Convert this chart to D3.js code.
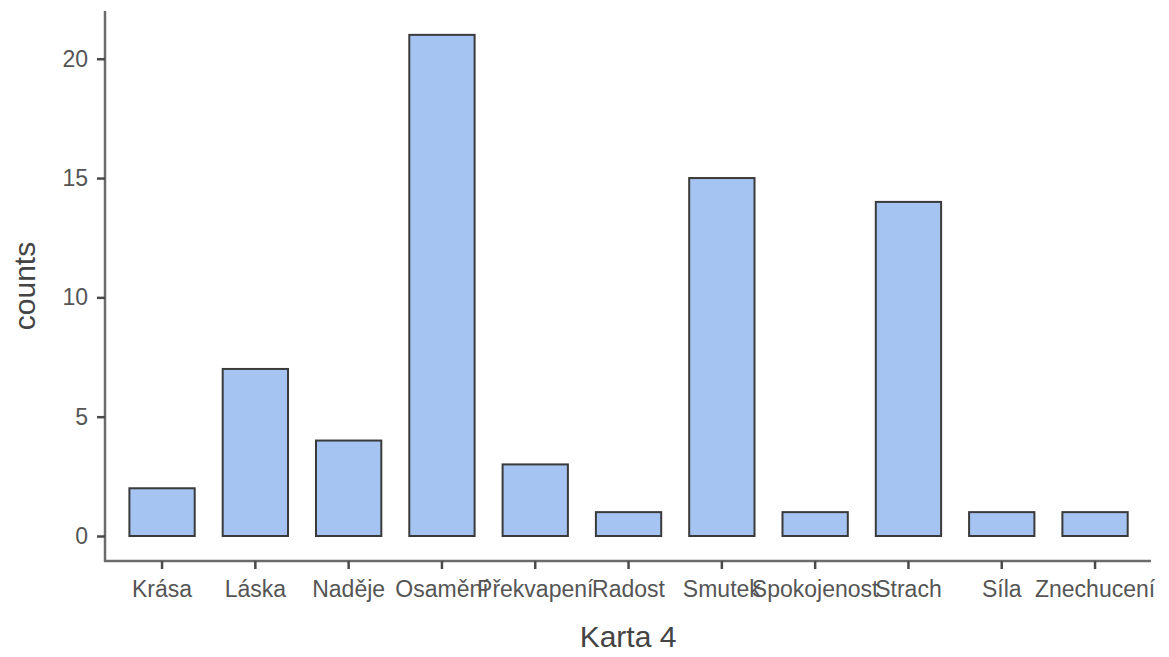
<!DOCTYPE html>
<html>
<head>
<meta charset="utf-8">
<script src="https://cdn.jsdelivr.net/npm/d3@7/dist/d3.min.js"></script>
<style>
  html, body { margin: 0; padding: 0; background: #fff; }
  svg { display: block; }
</style>
</head>
<body>
<svg id="chart" width="1169" height="657"></svg>
<script>
const categories = ["Krása", "Láska", "Naděje", "Osamění", "Překvapení", "Radost", "Smutek", "Spokojenost", "Strach", "Síla", "Znechucení"];
const counts = [2, 7, 4, 21, 3, 1, 15, 1, 14, 1, 1];
const yTicks = [0, 5, 10, 15, 20];
const xTitle = "Karta 4";
const yTitle = "counts";

const svg = d3.select("#chart");
const font = "'Liberation Sans', Arial, sans-serif";

const x = d3.scaleBand()
  .domain(categories)
  .range([115.4, 1141.7])
  .paddingInner(0.3)
  .paddingOuter(0.15);

const y = d3.scaleLinear()
  .domain([0, 22])
  .range([536, 11]);

// bars
svg.append("g")
  .selectAll("rect")
  .data(categories)
  .join("rect")
  .attr("x", d => x(d))
  .attr("y", (d, i) => y(counts[i]))
  .attr("width", x.bandwidth())
  .attr("height", (d, i) => y(0) - y(counts[i]))
  .attr("fill", "#A5C4F1")
  .attr("stroke", "#3a3a3a")
  .attr("stroke-width", 2);

// y axis
const yAxis = svg.append("g")
  .attr("transform", "translate(105,0)")
  .call(d3.axisLeft(y).tickValues(yTicks).tickSize(8).tickPadding(9).tickSizeOuter(0));
yAxis.select(".domain").attr("d", "M0,11V562");

// x axis
const xAxis = svg.append("g")
  .attr("transform", "translate(0,561)")
  .call(d3.axisBottom(x).tickSize(8).tickPadding(12).tickSizeOuter(0));
xAxis.select(".domain").attr("d", "M104,0H1151");

[yAxis, xAxis].forEach(ax => {
  ax.select(".domain").attr("stroke", "#6b6b6b").attr("stroke-width", 2.5).attr("fill", "none");
  ax.selectAll(".tick line").attr("stroke", "#4a4a4a").attr("stroke-width", 2.5);
  ax.selectAll(".tick text")
    .attr("fill", "#555")
    .style("font-family", font)
    .style("font-size", "23px");
});

// axis titles
svg.append("text")
  .attr("x", 628)
  .attr("y", 647)
  .attr("text-anchor", "middle")
  .attr("fill", "#444")
  .style("font-family", font)
  .style("font-size", "30px")
  .text(xTitle);

svg.append("text")
  .attr("transform", "translate(35,286) rotate(-90)")
  .attr("text-anchor", "middle")
  .attr("fill", "#444")
  .style("font-family", font)
  .style("font-size", "30px")
  .text(yTitle);
</script>
</body>
</html>
